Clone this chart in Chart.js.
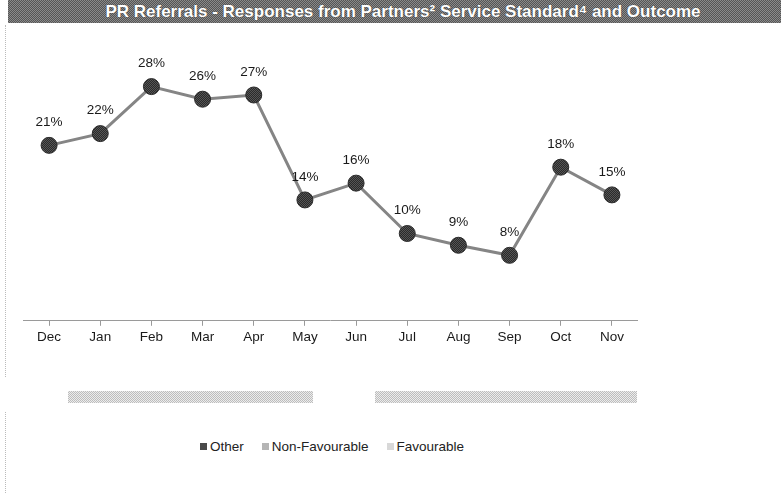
<!DOCTYPE html>
<html>
<head>
<meta charset="utf-8">
<script src="https://cdn.jsdelivr.net/npm/chart.js@4/dist/chart.umd.min.js"></script>
<style>
  body { margin: 0; width: 781px; height: 493px; background: #fff; position: relative; overflow: hidden;
         font-family: "Liberation Sans", Arial, sans-serif; }
  #titleBar { position: absolute; left: 8px; top: 0; width: 756px; height: 23px; padding-left: 17px;
              background: repeating-conic-gradient(#555 0 25%, #8a8a8a 0 50%) 0 0 / 2px 2px;
              color: #fff; font-weight: bold; font-size: 17px; line-height: 24px; text-align: center;
              text-shadow: 0 0 1px #333; }
  .dotted { position: absolute; left: 5px; width: 0; border-left: 1px dotted #bbb; }
  .strip { position: absolute; top: 391px; height: 12px;
           background: repeating-conic-gradient(#bdbdbd 0 25%, #ececec 0 50%) 0 0 / 2px 2px; }
  #chartBox { position: absolute; left: 0; top: 0; }
  #legend { position: absolute; left: 200px; top: 439px; font-size: 13.5px; color: #222; white-space: nowrap; }
  #legend span.item { display: inline-block; margin-right: 18px; }
  #legend i { display: inline-block; width: 7px; height: 7px; margin-right: 3px; vertical-align: 1px; }
</style>
</head>
<body>
<div id="titleBar">PR Referrals - Responses from Partners² Service Standard⁴ and Outcome</div>
<div class="dotted" style="top: 25px; height: 352px;"></div>
<div class="dotted" style="top: 412px; height: 81px;"></div>
<div class="strip" style="left: 68px; width: 245px;"></div>
<div class="strip" style="left: 375px; width: 262px;"></div>
<canvas id="chartBox" width="781" height="360"></canvas>
<div id="legend"></div>

<script>
// chart data
const months = ['Dec', 'Jan', 'Feb', 'Mar', 'Apr', 'May', 'Jun', 'Jul', 'Aug', 'Sep', 'Oct', 'Nov'];
const otherPct = [20.9, 22.3, 27.9, 26.4, 26.9, 14.4, 16.4, 10.4, 9.0, 7.8, 18.3, 15.0];
const legendNames = ['Other', 'Non-Favourable', 'Favourable'];
const legendColors = ['#4a4a4a', '#b5b5b5', '#d8d8d8'];

// dark hatched fill for the markers
function hatch(c1, c2) {
  const p = document.createElement('canvas');
  p.width = 2; p.height = 2;
  const g = p.getContext('2d');
  g.fillStyle = c1; g.fillRect(0, 0, 2, 2);
  g.fillStyle = c2; g.fillRect(0, 0, 1, 1); g.fillRect(1, 1, 1, 1);
  return g.createPattern(p, 'repeat');
}

// legend
const legendBox = document.getElementById('legend');
legendNames.forEach((name, i) => {
  const item = document.createElement('span');
  item.className = 'item';
  item.innerHTML = `<i style="background:${legendColors[i]}"></i>${name}`;
  legendBox.appendChild(item);
});

// value labels above the points
const pointLabels = {
  id: 'pointLabels',
  afterDatasetsDraw(chart) {
    const ctx = chart.ctx;
    const meta = chart.getDatasetMeta(0);
    ctx.save();
    ctx.font = '13.5px "Liberation Sans", Arial, sans-serif';
    ctx.fillStyle = '#1a1a1a';
    ctx.textAlign = 'center';
    ctx.textBaseline = 'middle';
    meta.data.forEach((pt, i) => {
      ctx.fillText(Math.round(otherPct[i]) + '%', pt.x, pt.y - 23);
    });
    ctx.restore();
  }
};

const ctx = document.getElementById('chartBox').getContext('2d');
new Chart(ctx, {
  type: 'line',
  data: {
    labels: months,
    datasets: [{
      label: 'Other',
      data: otherPct,
      borderColor: '#858585',
      borderWidth: 3,
      tension: 0,
      pointRadius: 8,
      pointBackgroundColor: hatch('#2a2a2a', '#555555'),
      pointBorderColor: '#2a2a2a',
      pointBorderWidth: 1
    }]
  },
  options: {
    responsive: false,
    animation: false,
    events: [],
    layout: { padding: { left: 23.5, right: 143.5, top: 27, bottom: 12 } },
    plugins: { legend: { display: false }, title: { display: false }, tooltip: { enabled: false } },
    scales: {
      y: { display: false, min: 0, max: 35 },
      x: {
        offset: true,
        border: { color: '#9a9a9a', width: 1 },
        grid: { drawOnChartArea: false, tickLength: 5, color: '#9a9a9a' },
        ticks: { color: '#1a1a1a', padding: 3, font: { size: 13.5, family: '"Liberation Sans", Arial, sans-serif' } }
      }
    }
  },
  plugins: [pointLabels]
});
</script>
</body>
</html>
